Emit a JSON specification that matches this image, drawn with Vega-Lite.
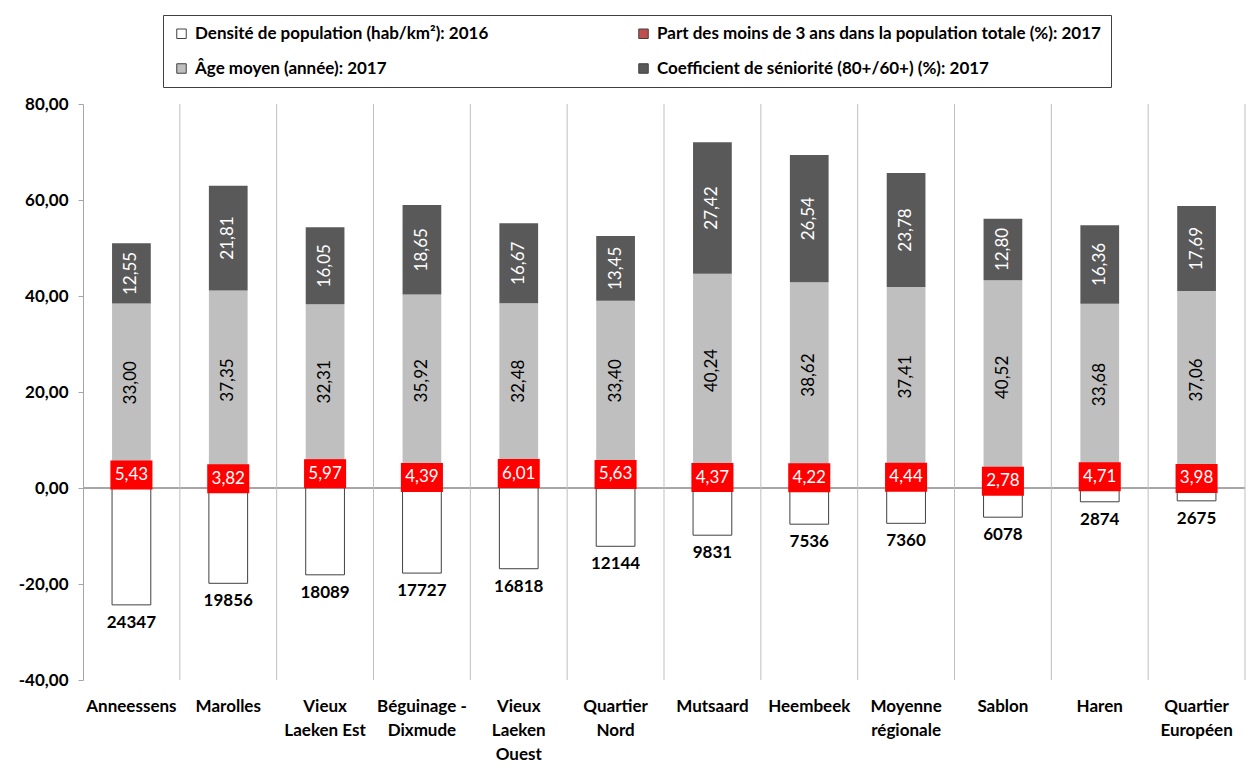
{
  "$schema": "https://vega.github.io/schema/vega-lite/v6.json",
  "width": 1162,
  "height": 576,
  "autosize": "none",
  "padding": {"left": 83, "top": 104, "right": 13, "bottom": 94},
  "background": "white",
  "config": {
    "locale": {"number": {"decimal": ",", "thousands": " ", "grouping": [3], "currency": ["", " €"], "minus": "-"}},
    "view": {"stroke": null},
    "font": "Lato"
  },
  "data": {
    "values": [
      {"q": "Anneessens", "dens": 24347, "part": 5.43, "age": 33.00, "coef": 12.55},
      {"q": "Marolles", "dens": 19856, "part": 3.82, "age": 37.35, "coef": 21.81},
      {"q": "Vieux|Laeken Est", "dens": 18089, "part": 5.97, "age": 32.31, "coef": 16.05},
      {"q": "Béguinage -|Dixmude", "dens": 17727, "part": 4.39, "age": 35.92, "coef": 18.65},
      {"q": "Vieux|Laeken|Ouest", "dens": 16818, "part": 6.01, "age": 32.48, "coef": 16.67},
      {"q": "Quartier|Nord", "dens": 12144, "part": 5.63, "age": 33.40, "coef": 13.45},
      {"q": "Mutsaard", "dens": 9831, "part": 4.37, "age": 40.24, "coef": 27.42},
      {"q": "Heembeek", "dens": 7536, "part": 4.22, "age": 38.62, "coef": 26.54},
      {"q": "Moyenne|régionale", "dens": 7360, "part": 4.44, "age": 37.41, "coef": 23.78},
      {"q": "Sablon", "dens": 6078, "part": 2.78, "age": 40.52, "coef": 12.80},
      {"q": "Haren", "dens": 2874, "part": 4.71, "age": 33.68, "coef": 16.36},
      {"q": "Quartier|Européen", "dens": 2675, "part": 3.98, "age": 37.06, "coef": 17.69}
    ]
  },
  "transform": [
    {"calculate": "-datum.dens/1000", "as": "densNeg"},
    {"calculate": "datum.part + datum.age", "as": "ageEnd"},
    {"calculate": "datum.part + datum.age + datum.coef", "as": "coefEnd"},
    {"calculate": "datum.part/2", "as": "partMid"},
    {"calculate": "datum.part + datum.age/2", "as": "ageMid"},
    {"calculate": "datum.part + datum.age + datum.coef/2", "as": "coefMid"}
  ],
  "layer": [
    {
      "mark": {"type": "rule", "color": "#A6A6A6", "strokeWidth": 1},
      "encoding": {
        "y": {"datum": 0, "type": "quantitative", "scale": {"domain": [-40, 80], "nice": false}, "title": null}
      }
    },
    {
      "mark": {"type": "rule", "color": "#BFBFBF", "strokeWidth": 1},
      "encoding": {
        "x": {"field": "q", "type": "nominal", "sort": null, "bandPosition": 1, "scale": {"paddingInner": 0, "paddingOuter": 0}, "title": null},
        "y": {"datum": -40, "type": "quantitative", "title": null},
        "y2": {"datum": 80}
      }
    },
    {
      "mark": {"type": "bar", "width": {"band": 0.4}, "stroke": "#404040", "strokeWidth": 1},
      "encoding": {
        "x": {
          "field": "q", "type": "nominal", "sort": null, "title": null,
          "axis": {
            "orient": "bottom", "domain": false, "ticks": false, "grid": false, "labelAngle": 0,
            "labelAlign": "center", "labelPadding": 18, "labelFontSize": 17, "labelFontWeight": "bold", "labelColor": "#000000",
            "labelLineHeight": 24, "labelBaseline": "top",
            "labelExpr": "split(datum.label, '|')"
          }
        },
        "y": {
          "field": "densNeg", "type": "quantitative", "title": null,
          "axis": {
            "values": [-40, -20, 0, 20, 40, 60, 80], "format": ".2f", "grid": false,
            "domain": true, "domainColor": "#A6A6A6", "ticks": true, "tickColor": "#A6A6A6", "tickSize": 5,
            "labelFontSize": 17, "labelFontWeight": "bold", "labelColor": "#000000", "labelPadding": 10
          }
        },
        "y2": {"datum": 0},
        "color": {
          "datum": "Densité de population (hab/km²): 2016",
          "scale": {
            "domain": ["Densité de population (hab/km²): 2016", "Part des moins de 3 ans dans la population totale (%): 2017", "Âge moyen (année): 2017", "Coefficient de séniorité (80+/60+) (%): 2017"],
            "range": ["#FFFFFF", "#C0504D", "#BFBFBF", "#595959"]
          },
          "legend": {
            "orient": "none", "legendX": 80, "legendY": -89, "columns": 2, "direction": "horizontal",
            "title": null, "symbolType": "square", "symbolSize": 90, "labelFontSize": 17,
            "labelFontWeight": "bold", "labelColor": "#000000", "labelLimit": 700, "columnPadding": 146,
            "rowPadding": 17, "padding": 10, "strokeColor": "#404040", "labelOffset": 5,
            "symbolStrokeWidth": 1,
            "encode": {"symbols": {"update": {"stroke": {"signal": "indexOf(datum.value, 'Densit') == 0 ? '#404040' : 'transparent'"}, "strokeWidth": {"value": 1}}}}
          }
        }
      }
    },
    {
      "mark": {"type": "bar", "width": {"band": 0.4}},
      "encoding": {
        "x": {"field": "q", "type": "nominal", "sort": null, "title": null},
        "y": {"field": "part", "type": "quantitative", "title": null},
        "y2": {"datum": 0},
        "color": {"datum": "Part des moins de 3 ans dans la population totale (%): 2017"}
      }
    },
    {
      "mark": {"type": "bar", "width": {"band": 0.4}},
      "encoding": {
        "x": {"field": "q", "type": "nominal", "sort": null, "title": null},
        "y": {"field": "part", "type": "quantitative", "title": null},
        "y2": {"field": "ageEnd"},
        "color": {"datum": "Âge moyen (année): 2017"}
      }
    },
    {
      "mark": {"type": "bar", "width": {"band": 0.4}},
      "encoding": {
        "x": {"field": "q", "type": "nominal", "sort": null, "title": null},
        "y": {"field": "ageEnd", "type": "quantitative", "title": null},
        "y2": {"field": "coefEnd"},
        "color": {"datum": "Coefficient de séniorité (80+/60+) (%): 2017"}
      }
    },
    {
      "mark": {"type": "point", "shape": "M-1.45,-1H1.45V1H-1.45Z", "size": 841, "filled": true, "fill": "#FF0000", "opacity": 1, "strokeWidth": 0},
      "encoding": {
        "x": {"field": "q", "type": "nominal", "sort": null, "title": null},
        "y": {"field": "partMid", "type": "quantitative", "title": null}
      }
    },
    {
      "mark": {"type": "text", "color": "#FFFFFF", "fontSize": 17, "align": "center", "baseline": "middle"},
      "encoding": {
        "x": {"field": "q", "type": "nominal", "sort": null, "title": null},
        "y": {"field": "partMid", "type": "quantitative", "title": null},
        "text": {"field": "part", "type": "quantitative", "format": ".2f"}
      }
    },
    {
      "mark": {"type": "text", "color": "#000000", "fontSize": 17, "angle": 270, "align": "center", "baseline": "middle"},
      "encoding": {
        "x": {"field": "q", "type": "nominal", "sort": null, "title": null},
        "y": {"field": "ageMid", "type": "quantitative", "title": null},
        "text": {"field": "age", "type": "quantitative", "format": ".2f"}
      }
    },
    {
      "mark": {"type": "text", "color": "#FFFFFF", "fontSize": 17, "angle": 270, "align": "center", "baseline": "middle"},
      "encoding": {
        "x": {"field": "q", "type": "nominal", "sort": null, "title": null},
        "y": {"field": "coefMid", "type": "quantitative", "title": null},
        "text": {"field": "coef", "type": "quantitative", "format": ".2f"}
      }
    },
    {
      "mark": {"type": "text", "color": "#000000", "fontSize": 17, "fontWeight": "bold", "align": "center", "baseline": "top", "dy": 10},
      "encoding": {
        "x": {"field": "q", "type": "nominal", "sort": null, "title": null},
        "y": {"field": "densNeg", "type": "quantitative", "title": null},
        "text": {"field": "dens", "type": "quantitative", "format": "d"}
      }
    }
  ]
}
